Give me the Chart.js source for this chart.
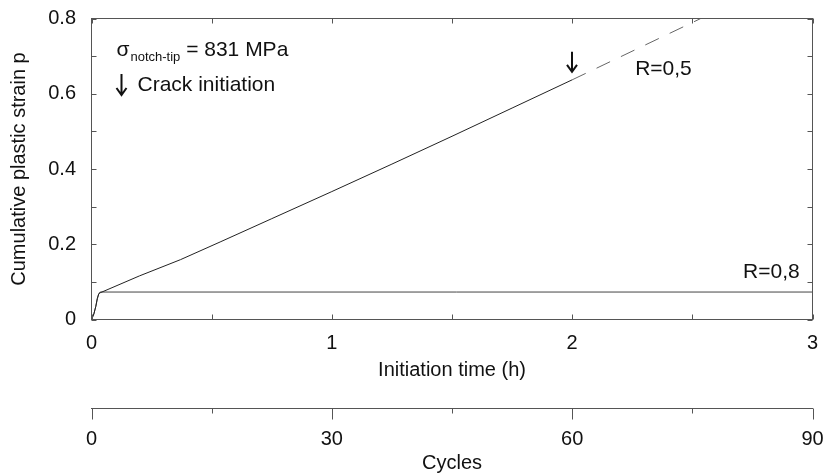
<!DOCTYPE html>
<html>
<head>
<meta charset="utf-8">
<script src="https://cdn.jsdelivr.net/npm/chart.js@4.4.1/dist/chart.umd.min.js"></script>
<style>
  html, body { margin: 0; padding: 0; background: #fff; }
  #wrap { width: 825px; height: 473px; position: relative; }
</style>
</head>
<body>
<div id="wrap"><canvas id="strainChart"></canvas></div>
<script>
// R=0,5 : measured part (solid) and extrapolation after crack initiation (dashed)
const timeR05 = [0, 0.01, 0.018, 0.024, 0.03, 0.036, 0.2, 0.37, 0.535, 0.75, 1.0, 1.25, 1.5, 1.75, 2.0];
const strainR05 = [0, 0.015, 0.035, 0.055, 0.068, 0.071, 0.116, 0.159, 0.206, 0.268, 0.34, 0.413, 0.487, 0.562, 0.637];
const timeR05Ext = [2.0, 2.535];
const strainR05Ext = [0.637, 0.8];

// R=0,8 : shakedown, strain stays flat
const timeR08 = [0, 0.01, 0.018, 0.024, 0.03, 0.036, 3];
const strainR08 = [0, 0.015, 0.035, 0.055, 0.068, 0.073, 0.073];

// crack initiation marker for R=0,5
const crackTime = 2.0;
const crackStrain = 0.637;

// axes
const hourRange = [0, 3];
const strainRange = [0, 0.8];
const cycleRange = [0, 90];

const FONT = "'Liberation Sans', Arial, sans-serif";

const toPoints = (xs, ys) => xs.map((x, i) => ({ x: x, y: ys[i] }));

// chart area is fixed by layout padding, not by label overhang
const noHPad = s => { s.paddingLeft = 0; s.paddingRight = 0; };

// box with inward ticks, cycle axis ticks, arrows and labels
const decorations = {
  id: 'decorations',
  afterDraw(chart) {
    const { ctx, chartArea: a, scales } = chart;
    const x = scales.x, y = scales.y, x2 = scales.x2;
    ctx.save();
    ctx.strokeStyle = '#555';
    ctx.lineWidth = 1;
    ctx.strokeRect(a.left, a.top, a.right - a.left, a.bottom - a.top);

    ctx.beginPath();
    x.ticks.forEach(t => {
      const px = Math.round(x.getPixelForValue(t.value)) + 0.5;
      ctx.moveTo(px, a.bottom); ctx.lineTo(px, a.bottom - 5);
      ctx.moveTo(px, a.top); ctx.lineTo(px, a.top + 5);
    });
    y.ticks.forEach(t => {
      const py = Math.round(y.getPixelForValue(t.value)) + 0.5;
      ctx.moveTo(a.left, py); ctx.lineTo(a.left + 5, py);
      ctx.moveTo(a.right, py); ctx.lineTo(a.right - 5, py);
    });
    // cycles axis: long major ticks, short minor ticks
    x2.ticks.forEach(t => {
      const px = Math.round(x2.getPixelForValue(t.value)) + 0.5;
      const len = t.value % 30 === 0 ? 11 : 5;
      ctx.moveTo(px, x2.top); ctx.lineTo(px, x2.top + len);
    });
    ctx.stroke();

    ctx.fillStyle = '#111';
    ctx.strokeStyle = '#111';
    ctx.lineWidth = 2;
    const arrow = (ax, y0, y1) => {
      ctx.beginPath();
      ctx.moveTo(ax, y0); ctx.lineTo(ax, y1);
      ctx.moveTo(ax - 5, y1 - 7); ctx.lineTo(ax, y1); ctx.lineTo(ax + 5, y1 - 7);
      ctx.stroke();
    };

    // legend text top-left
    ctx.textBaseline = 'alphabetic';
    ctx.textAlign = 'left';
    let tx = a.left + 25;
    ctx.font = '21px ' + FONT;
    ctx.fillText('σ', tx, 56);
    tx += ctx.measureText('σ').width + 1;
    ctx.font = '13px ' + FONT;
    ctx.fillText('notch-tip', tx, 61);
    tx += ctx.measureText('notch-tip').width;
    ctx.font = '21px ' + FONT;
    ctx.fillText(' = 831 MPa', tx, 56);

    arrow(a.left + 30, 74, 95);
    ctx.fillText('Crack initiation', a.left + 46, 91);

    // crack initiation arrow above the R=0,5 curve
    const cx = Math.round(x.getPixelForValue(crackTime));
    const cy = y.getPixelForValue(crackStrain);
    arrow(cx, cy - 28, cy - 8);

    ctx.fillText('R=0,5', x.getPixelForValue(2.262), y.getPixelForValue(0.65));
    ctx.fillText('R=0,8', x.getPixelForValue(2.711), y.getPixelForValue(0.11));
    ctx.restore();
  }
};

new Chart(document.getElementById('strainChart').getContext('2d'), {
  type: 'line',
  data: {
    datasets: [
      {
        label: 'R=0,5',
        data: toPoints(timeR05, strainR05),
        borderColor: '#222',
        borderWidth: 1,
        pointRadius: 0,
        tension: 0
      },
      {
        label: 'R=0,5 extrapolated',
        data: toPoints(timeR05Ext, strainR05Ext),
        borderColor: '#666',
        borderWidth: 1,
        borderDash: [15, 12],
        pointRadius: 0,
        tension: 0
      },
      {
        label: 'R=0,8',
        data: toPoints(timeR08, strainR08),
        borderColor: '#444',
        borderWidth: 1,
        pointRadius: 0,
        tension: 0
      }
    ]
  },
  options: {
    responsive: true,
    maintainAspectRatio: false,
    animation: false,
    layout: { padding: { top: 18.5, right: 12.5, left: 0, bottom: 0 } },
    plugins: {
      legend: { display: false },
      tooltip: { enabled: false }
    },
    scales: {
      x: {
        type: 'linear',
        position: 'bottom',
        min: hourRange[0],
        max: hourRange[1],
        afterFit: s => { s.height = 89; noHPad(s); },
        border: { display: false },
        grid: { display: false, drawTicks: false },
        ticks: {
          stepSize: 0.5,
          autoSkip: false,
          maxRotation: 0,
          padding: 11.5,
          color: '#111',
          font: { family: FONT, size: 20 },
          callback: v => Number.isInteger(v) ? String(v) : ''
        },
        title: {
          display: true,
          text: 'Initiation time (h)',
          color: '#111',
          font: { family: FONT, size: 20 },
          padding: { top: 0, bottom: 26.5 }
        }
      },
      x2: {
        type: 'linear',
        position: 'bottom',
        min: cycleRange[0],
        max: cycleRange[1],
        afterFit: s => { s.height = 64.5; noHPad(s); },
        border: { display: true, color: '#555', width: 1 },
        grid: { display: false, drawTicks: false },
        ticks: {
          stepSize: 15,
          autoSkip: false,
          maxRotation: 0,
          padding: 18.5,
          color: '#111',
          font: { family: FONT, size: 20 },
          callback: v => v % 30 === 0 ? String(v) : ''
        },
        title: {
          display: true,
          text: 'Cycles',
          color: '#111',
          font: { family: FONT, size: 20, lineHeight: 1 },
          padding: { top: 0, bottom: 0 }
        }
      },
      y: {
        type: 'linear',
        min: strainRange[0],
        max: strainRange[1],
        afterFit: s => { s.width = 91.5; s.paddingTop = 0; s.paddingBottom = 0; },
        border: { display: false },
        grid: { display: false, drawTicks: false },
        ticks: {
          stepSize: 0.1,
          autoSkip: false,
          padding: 15.5,
          color: '#111',
          font: { family: FONT, size: 20 },
          callback: v => {
            const k = Math.round(v * 10);
            if (k % 2 !== 0) return '';
            return k === 0 ? '0' : (k / 10).toFixed(1);
          }
        },
        title: {
          display: true,
          text: 'Cumulative plastic strain p',
          color: '#111',
          font: { family: FONT, size: 20 },
          padding: { top: 7, bottom: 0 }
        }
      }
    }
  },
  plugins: [decorations]
});
</script>
</body>
</html>
